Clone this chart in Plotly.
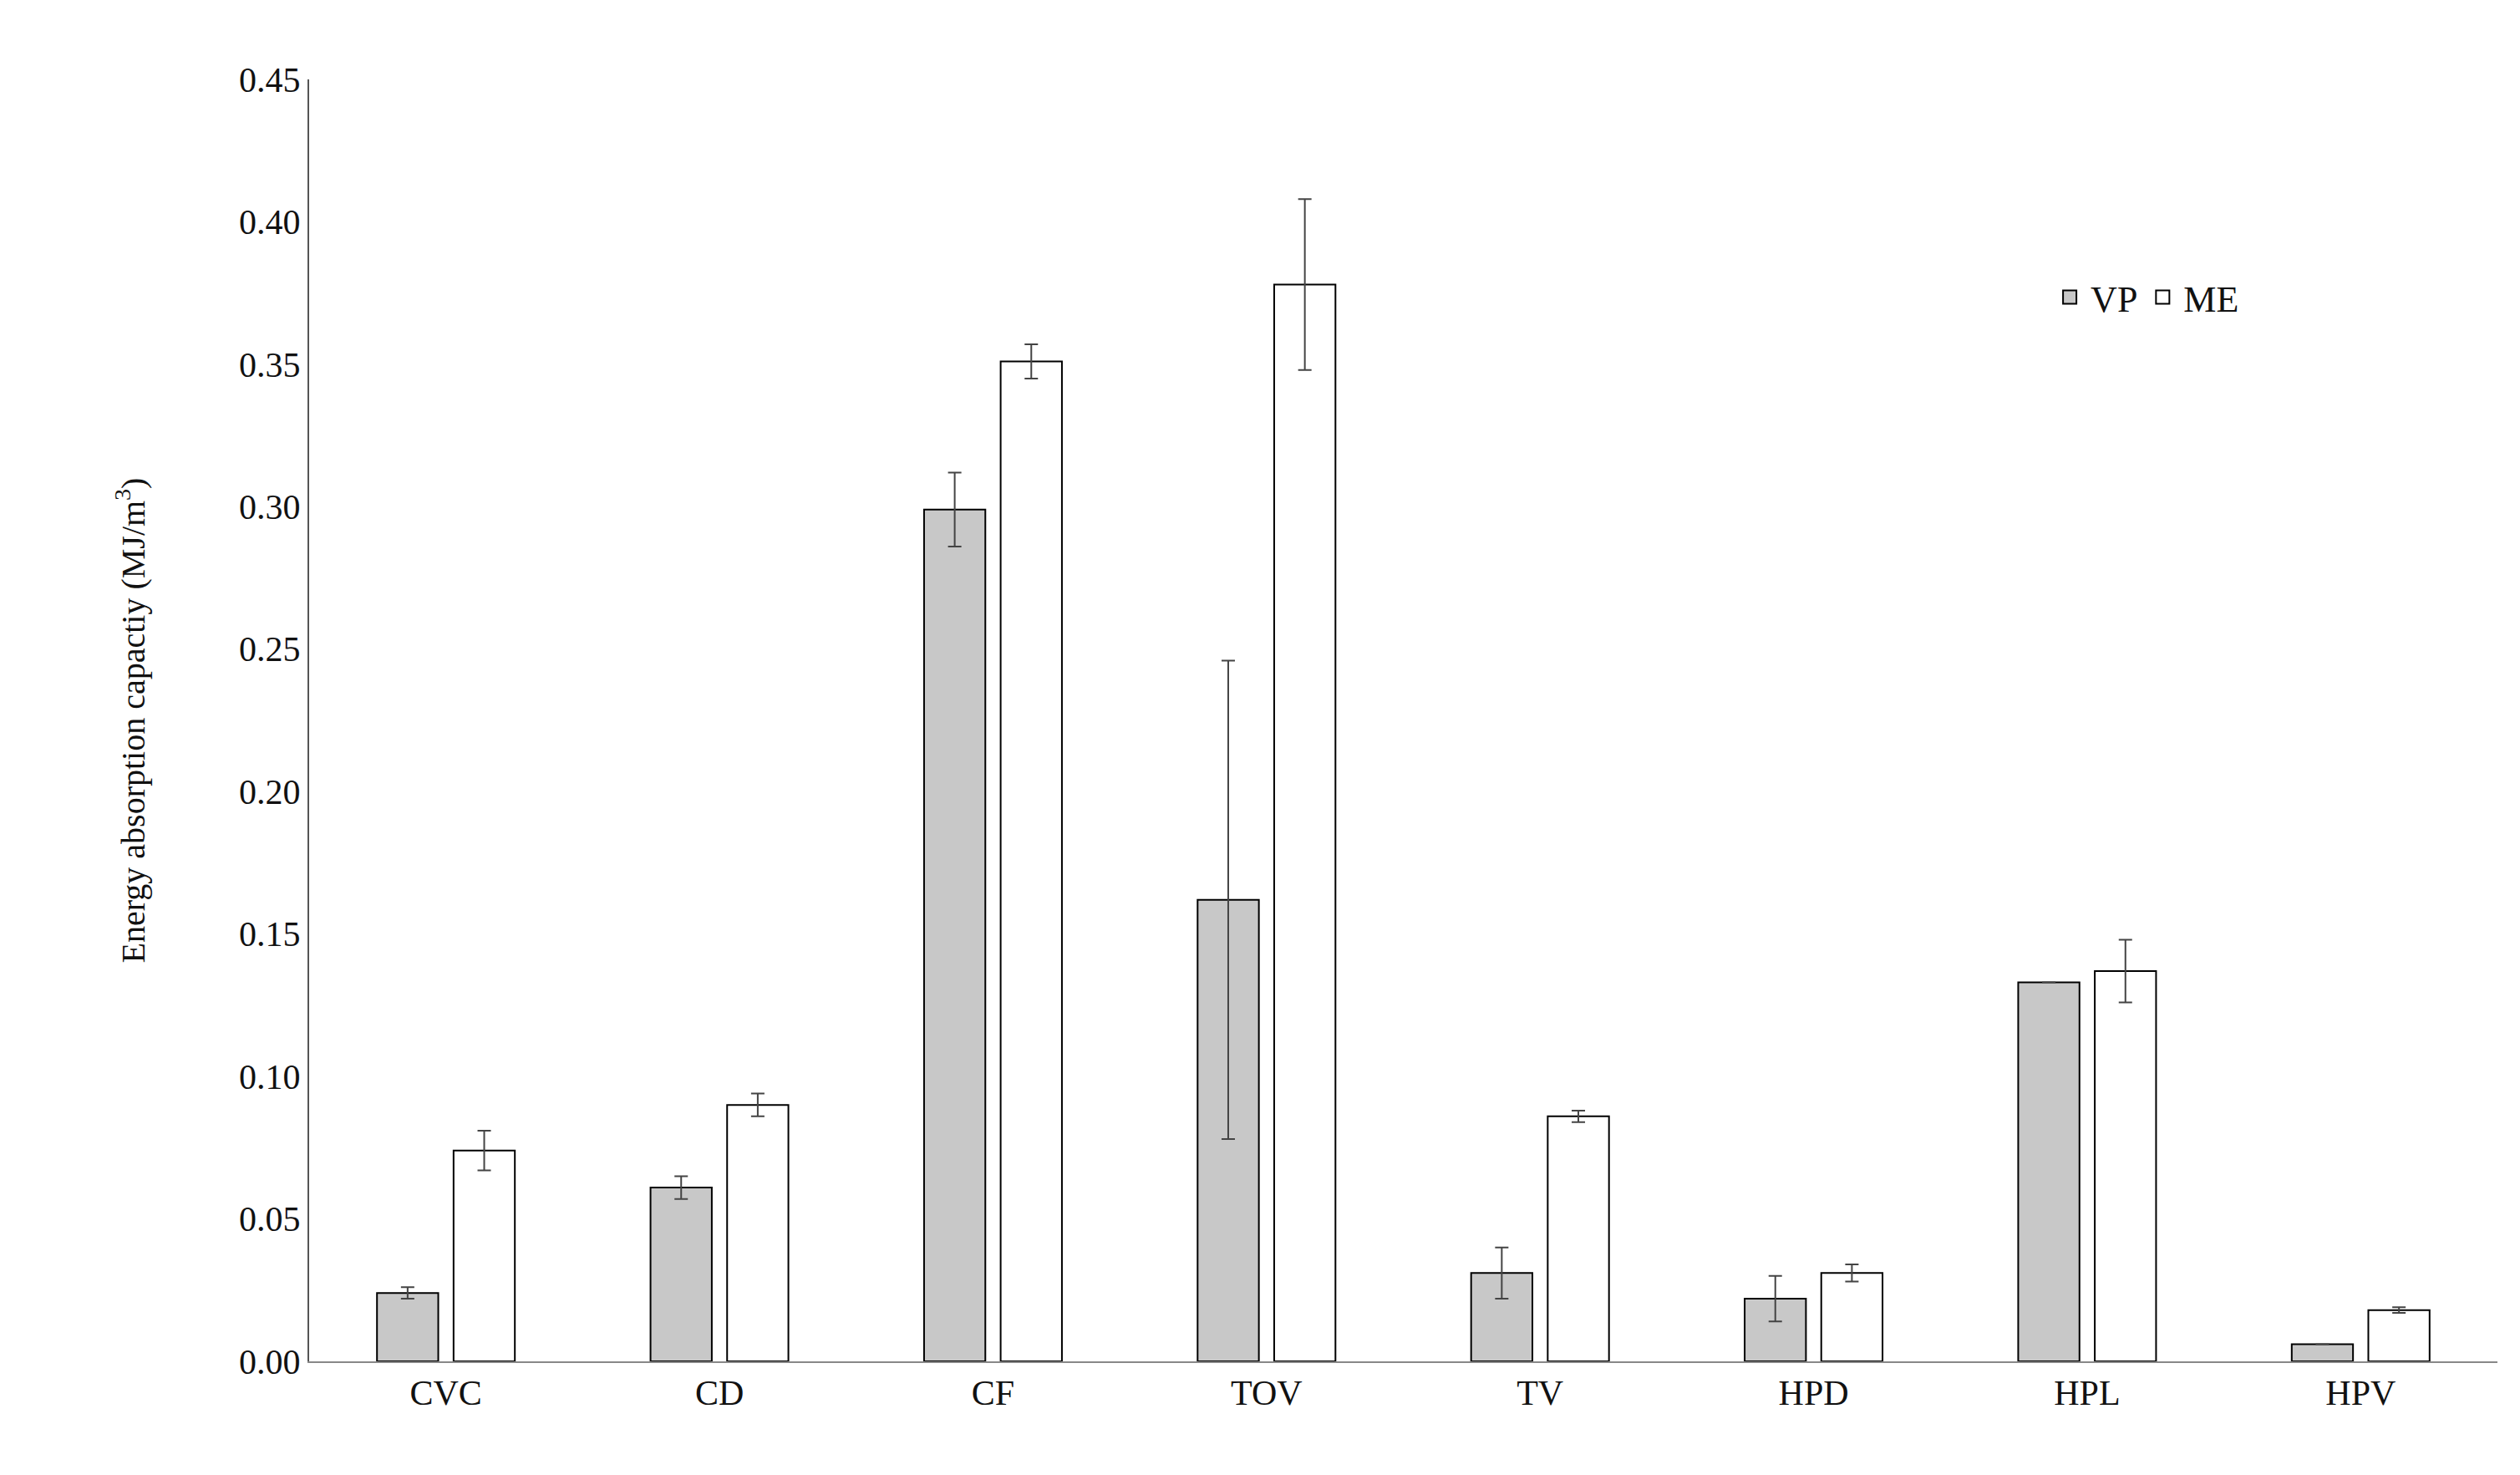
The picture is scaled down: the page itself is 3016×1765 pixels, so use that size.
import plotly.graph_objects as go

categories = ["CVC", "CD", "CF", "TOV", "TV", "HPD", "HPL", "HPV"]
vp = [0.024, 0.061, 0.299, 0.162, 0.031, 0.022, 0.133, 0.006]
vp_err = [0.002, 0.004, 0.013, 0.084, 0.009, 0.008, 0.0, 0.0]
me = [0.074, 0.090, 0.351, 0.378, 0.086, 0.031, 0.137, 0.018]
me_err = [0.007, 0.004, 0.006, 0.030, 0.002, 0.003, 0.011, 0.001]
yticks = [0, 0.05, 0.10, 0.15, 0.20, 0.25, 0.30, 0.35, 0.40, 0.45]

font = "Liberation Serif"
fig = go.Figure()
fig.add_bar(name="VP", x=categories, y=vp, showlegend=False,
            marker=dict(color="#c8c8c8", line=dict(color="#000", width=2)),
            error_y=dict(type="data", array=vp_err, color="#444", thickness=2, width=8))
fig.add_bar(name="ME", x=categories, y=me, showlegend=False,
            marker=dict(color="#fff", line=dict(color="#000", width=2)),
            error_y=dict(type="data", array=me_err, color="#444", thickness=2, width=8))
# legend-only entries with larger swatches
fig.add_scatter(name="VP", x=[None], y=[None], mode="markers",
                marker=dict(symbol="square", size=30, color="#c8c8c8", line=dict(color="#000", width=2)))
fig.add_scatter(name="ME", x=[None], y=[None], mode="markers",
                marker=dict(symbol="square", size=30, color="#fff", line=dict(color="#000", width=2)))
fig.update_layout(
    width=3016, height=1765, plot_bgcolor="white", paper_bgcolor="white",
    margin=dict(l=362, r=35, t=87, b=144),
    barmode="group", bargap=0.44, bargroupgap=0.2,
    font=dict(family=font, size=42, color="#111"),
    legend=dict(orientation="h", x=0.795, y=0.83, xanchor="left", yanchor="middle",
                font=dict(size=44), itemwidth=40, tracegroupgap=60, bgcolor="rgba(0,0,0,0)"),
)
fig.update_yaxes(range=[0, 0.45], tickvals=yticks, tickformat=".2f", showgrid=False,
                 showline=True, linecolor="#555", linewidth=2, ticks="", zeroline=False,
                 title=dict(text="Energy absorption capactiy (MJ/m<sup>3</sup>)", font=dict(size=40), standoff=100))
fig.update_xaxes(showline=True, linecolor="#888", linewidth=2, ticks="", showgrid=False)
fig.write_html("out.html")
